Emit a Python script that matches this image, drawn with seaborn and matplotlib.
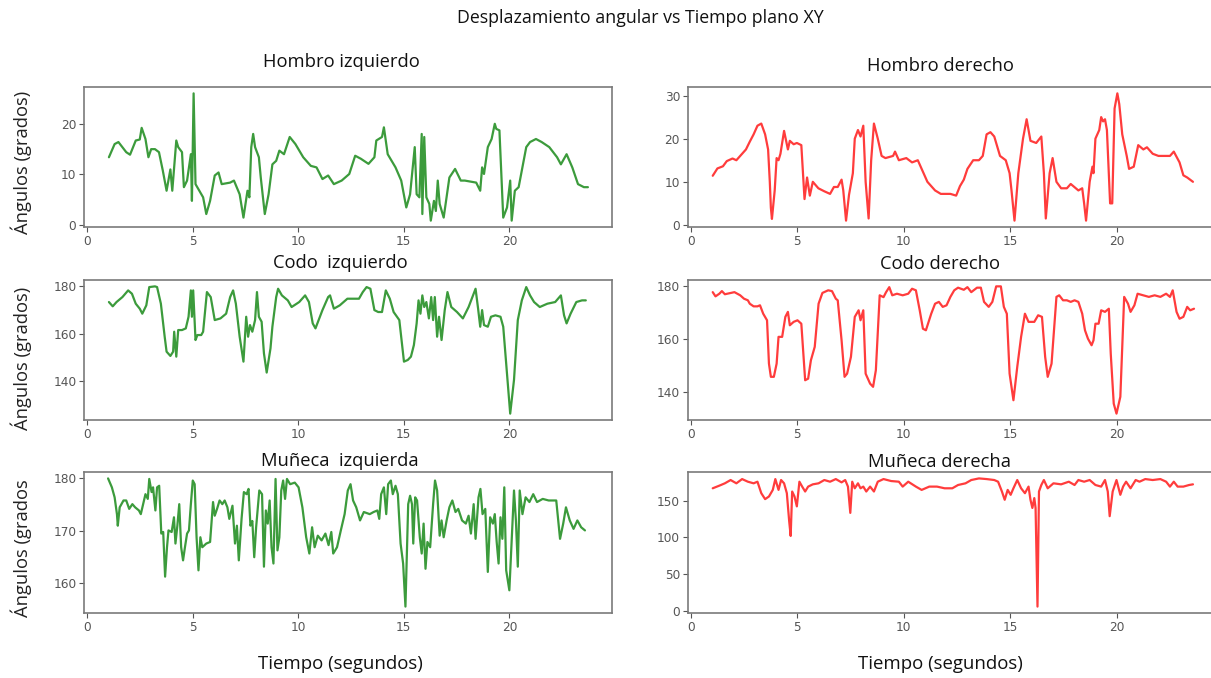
import matplotlib
matplotlib.use("Agg")
import matplotlib.pyplot as plt
import seaborn as sns
import pandas as pd

# ---------------- data ----------------
# Hombro izquierdo (green)
t_hi = [1.04, 1.31, 1.49, 1.86, 2.04, 2.31, 2.50, 2.59, 2.77, 2.91, 3.04, 3.22, 3.41, 3.59, 3.77, 3.95,
        4.04, 4.23, 4.32, 4.50, 4.59, 4.74, 4.92, 4.97, 5.05, 5.14, 5.32, 5.50, 5.65, 5.83, 6.05, 6.23,
        6.38, 6.78, 6.96, 7.23, 7.41, 7.60, 7.69, 7.78, 7.87, 7.96, 8.14, 8.23, 8.42, 8.60, 8.78, 8.96,
        9.11, 9.33, 9.60, 9.87, 10.24, 10.60, 10.87, 11.15, 11.42, 11.69, 12.06, 12.42, 12.70, 12.97,
        13.33, 13.61, 13.70, 13.97, 14.06, 14.24, 14.61, 14.88, 15.12, 15.30, 15.52, 15.61, 15.74, 15.85,
        15.88, 15.97, 16.07, 16.21, 16.28, 16.43, 16.52, 16.61, 16.70, 16.89, 17.16, 17.43, 17.70, 17.89,
        18.43, 18.62, 18.71, 18.80, 18.98, 19.16, 19.31, 19.38, 19.53, 19.71, 19.89, 20.04, 20.11, 20.26,
        20.44, 20.80, 20.98, 21.26, 21.53, 21.89, 22.26, 22.44, 22.71, 22.98, 23.25, 23.53, 23.72]
v_hi = [13.4, 16.0, 16.4, 14.4, 13.9, 16.7, 16.9, 19.2, 17.0, 13.4, 15.0, 15.0, 14.4, 10.8, 6.8, 11.0,
        6.8, 16.7, 15.4, 14.4, 7.5, 8.8, 14.0, 4.8, 26.0, 8.1, 6.8, 5.5, 2.2, 4.8, 9.8, 10.4,
        8.1, 8.4, 8.8, 6.1, 1.5, 6.8, 5.5, 15.4, 18.0, 15.4, 13.4, 9.4, 2.2, 6.1, 12.0, 12.7,
        14.7, 14.0, 17.4, 16.0, 13.4, 11.7, 11.4, 9.1, 9.8, 8.1, 8.8, 10.1, 13.7, 13.1,
        12.1, 13.4, 16.7, 17.4, 19.3, 14.0, 11.4, 8.8, 3.5, 6.1, 15.4, 6.1, 5.5, 18.0,
        2.2, 17.4, 5.5, 4.2, 0.9, 4.8, 2.8, 8.8, 4.2, 1.5, 9.4, 11.1, 8.8, 8.8,
        8.4, 6.8, 11.4, 10.1, 15.4, 17.0, 20.0, 19.0, 18.7, 1.5, 3.5, 8.8, 0.9, 6.8,
        7.5, 15.4, 16.4, 17.0, 16.4, 15.4, 13.4, 12.0, 14.0, 11.4, 8.1, 7.5, 7.5]

# Hombro derecho (red)
t_hd = [1.04, 1.26, 1.52, 1.70, 1.97, 2.15, 2.42, 2.60, 2.78, 2.96, 3.14, 3.32, 3.50, 3.64, 3.72, 3.77,
        3.82, 3.95, 4.04, 4.13, 4.22, 4.39, 4.57, 4.66, 4.84, 4.99, 5.20, 5.35, 5.47, 5.60, 5.74, 6.00,
        6.28, 6.55, 6.73, 6.91, 7.09, 7.17, 7.30, 7.44, 7.62, 7.71, 7.86, 7.98, 8.11, 8.22, 8.36, 8.48,
        8.61, 8.79, 8.97, 9.15, 9.51, 9.60, 9.78, 10.13, 10.40, 10.67, 10.85, 11.12, 11.48, 11.75, 12.20,
        12.47, 12.65, 12.83, 13.00, 13.27, 13.54, 13.72, 13.90, 14.08, 14.26, 14.53, 14.80, 14.98, 15.07,
        15.21, 15.39, 15.61, 15.78, 15.96, 16.23, 16.47, 16.59, 16.68, 16.86, 17.00, 17.18, 17.40, 17.67,
        17.85, 18.21, 18.39, 18.48, 18.57, 18.74, 18.87, 18.92, 19.01, 19.19, 19.28, 19.37, 19.46, 19.55,
        19.70, 19.80, 19.91, 20.04, 20.13, 20.27, 20.48, 20.59, 20.81, 21.02, 21.26, 21.43, 21.70, 21.97,
        22.24, 22.51, 22.69, 22.96, 23.14, 23.32, 23.59]
v_hd = [11.4, 13.1, 13.6, 14.8, 15.4, 15.0, 16.5, 17.5, 19.3, 21.0, 23.0, 23.5, 21.0, 17.5, 10.0, 4.0,
        1.4, 8.0, 15.5, 15.0, 16.5, 21.8, 17.5, 19.5, 18.7, 19.0, 18.5, 6.0, 11.0, 6.8, 10.0, 8.5,
        7.8, 7.2, 8.8, 8.8, 10.5, 8.0, 1.0, 7.0, 12.0, 20.0, 22.0, 20.5, 23.0, 10.0, 1.5, 15.0,
        23.5, 20.0, 16.0, 15.5, 16.0, 17.0, 15.0, 15.5, 14.5, 15.0, 13.0, 10.0, 8.0, 7.2, 7.2,
        6.8, 9.0, 10.5, 13.0, 15.0, 15.0, 16.0, 21.0, 21.5, 20.5, 16.0, 15.0, 12.0, 8.0,
        1.0, 12.0, 20.0, 24.5, 19.5, 19.0, 20.5, 12.0, 1.5, 12.0, 15.5, 10.0, 8.5, 8.5,
        9.5, 8.0, 8.5, 5.0, 1.0, 10.0, 13.5, 12.0, 20.0, 22.0, 25.0, 24.0, 24.5, 22.0,
        5.0, 5.0, 27.0, 30.5, 28.0, 21.0, 16.0, 13.0, 13.5, 18.5, 17.5, 18.0, 16.5, 16.0,
        16.0, 16.0, 17.0, 14.5, 11.5, 11.0, 10.0]

# Codo izquierdo (green)
t_ci = [1.04, 1.22, 1.40, 1.68, 1.95, 2.13, 2.31, 2.50, 2.62, 2.81, 2.95, 3.22, 3.32, 3.50, 3.68, 3.77,
        3.95, 4.08, 4.13, 4.23, 4.32, 4.50, 4.68, 4.81, 4.92, 4.97, 5.03, 5.08, 5.14, 5.23, 5.41, 5.50,
        5.68, 5.86, 6.05, 6.32, 6.59, 6.78, 6.92, 7.05, 7.23, 7.41, 7.54, 7.63, 7.72, 7.83, 7.96, 8.05,
        8.14, 8.27, 8.38, 8.51, 8.69, 8.78, 8.96, 9.05, 9.23, 9.51, 9.69, 10.05, 10.33, 10.51, 10.69,
        10.82, 11.15, 11.42, 11.51, 11.69, 11.97, 12.33, 12.60, 12.88, 13.06, 13.24, 13.42, 13.61, 13.79,
        13.97, 14.15, 14.34, 14.52, 14.79, 15.01, 15.19, 15.34, 15.48, 15.61, 15.70, 15.79, 15.88, 15.97,
        16.07, 16.19, 16.30, 16.39, 16.47, 16.58, 16.67, 16.79, 16.94, 17.07, 17.25, 17.52, 17.80, 18.07,
        18.25, 18.40, 18.52, 18.62, 18.71, 18.80, 18.98, 19.13, 19.34, 19.58, 19.71, 19.85, 20.04, 20.22,
        20.40, 20.59, 20.80, 20.98, 21.17, 21.44, 21.80, 22.17, 22.44, 22.59, 22.71, 22.90, 23.17, 23.44,
        23.62]
v_ci = [173.4, 171.6, 173.4, 175.5, 178.3, 176.9, 172.7, 170.6, 168.5, 172.0, 179.7, 180.0, 179.7, 172.7,
        158.8, 152.5, 150.7, 152.5, 160.9, 150.4, 161.6, 161.6, 162.3, 167.2, 178.3, 167.2, 178.3, 168.5,
        157.4, 159.5, 159.5, 160.9, 177.6, 175.5, 165.8, 166.5, 168.5, 175.5, 178.3, 172.7, 158.8, 148.3,
        167.2, 158.8, 163.7, 160.9, 165.8, 177.6, 167.2, 165.1, 151.8, 143.7, 153.9, 163.0, 175.5, 179.0,
        176.2, 174.1, 171.3, 173.4, 176.2, 173.4, 164.4, 162.3, 170.0, 175.5, 176.2, 170.6, 172.0, 174.8,
        174.8, 174.8, 177.6, 179.7, 179.0, 170.0, 169.2, 169.2, 178.3, 174.8, 169.2, 165.8, 148.3, 149.0,
        150.4, 155.3, 164.4, 174.1, 168.5, 176.2, 171.3, 173.4, 166.5, 175.5, 165.8, 175.5, 158.8, 167.2,
        157.4, 170.0, 177.6, 171.3, 169.2, 166.5, 171.3, 175.5, 179.0, 170.6, 163.0, 170.0, 163.7, 163.0,
        167.2, 167.8, 167.2, 163.0, 147.6, 126.4, 140.6, 165.8, 174.1, 179.7, 176.2, 173.4, 171.3, 172.7,
        173.4, 176.2, 167.8, 164.4, 168.5, 173.4, 174.1, 174.1]

# Codo derecho (red)
t_cd = [1.04, 1.17, 1.35, 1.47, 1.61, 1.88, 2.06, 2.33, 2.51, 2.69, 2.78, 2.96, 3.14, 3.26, 3.41, 3.59,
        3.68, 3.77, 3.91, 4.04, 4.13, 4.30, 4.45, 4.57, 4.66, 4.84, 5.02, 5.20, 5.38, 5.52, 5.65, 5.83,
        6.01, 6.19, 6.46, 6.64, 6.82, 6.91, 7.09, 7.23, 7.35, 7.53, 7.71, 7.89, 7.98, 8.11, 8.22, 8.43,
        8.57, 8.70, 8.88, 9.06, 9.18, 9.33, 9.47, 9.69, 9.96, 10.22, 10.40, 10.58, 10.76, 10.91, 11.05,
        11.30, 11.48, 11.66, 11.84, 12.02, 12.20, 12.38, 12.56, 12.83, 13.00, 13.18, 13.45, 13.63, 13.78,
        14.00, 14.17, 14.35, 14.57, 14.71, 14.85, 14.98, 15.16, 15.34, 15.52, 15.70, 15.87, 16.14, 16.32,
        16.50, 16.65, 16.77, 16.95, 17.18, 17.31, 17.49, 17.67, 17.85, 18.03, 18.21, 18.39, 18.52, 18.66,
        18.83, 18.92, 19.01, 19.16, 19.28, 19.46, 19.64, 19.73, 19.87, 20.00, 20.18, 20.36, 20.54, 20.66,
        20.84, 20.99, 21.26, 21.52, 21.79, 22.06, 22.33, 22.51, 22.64, 22.82, 22.96, 23.14, 23.32, 23.46,
        23.64]
v_cd = [177.8, 176.2, 177.2, 178.2, 177.0, 177.5, 177.8, 176.6, 175.3, 174.7, 173.4, 172.4, 172.4, 172.8,
        169.6, 167.1, 150.6, 145.6, 145.6, 150.6, 160.8, 160.8, 168.4, 170.3, 165.2, 166.5, 167.1, 165.8,
        144.3, 144.9, 151.9, 157.0, 173.4, 177.5, 178.5, 178.2, 175.3, 174.7, 159.5, 145.6, 146.8, 153.2,
        168.4, 170.9, 167.1, 170.9, 146.8, 143.0, 141.8, 148.1, 176.6, 175.9, 177.8, 179.7, 176.6, 177.2,
        176.6, 177.2, 179.1, 178.5, 170.9, 163.9, 163.3, 169.6, 173.4, 174.1, 172.2, 172.8, 176.0, 178.5,
        179.5, 178.7, 179.7, 177.8, 179.5, 179.5, 174.1, 172.2, 174.1, 180.0, 180.0, 172.2, 169.6, 146.8,
        136.7, 149.4, 160.8, 169.6, 166.5, 166.5, 169.0, 168.4, 153.2, 145.6, 150.6, 176.0, 176.6, 174.7,
        174.7, 174.1, 174.7, 174.1, 169.6, 163.3, 160.1, 157.6, 159.5, 165.8, 165.8, 170.9, 170.3, 171.5,
        154.4, 135.4, 131.6, 138.0, 176.0, 173.4, 170.3, 172.8, 177.2, 176.6, 176.0, 176.6, 176.0, 177.2,
        176.0, 178.5, 170.3, 167.7, 168.4, 172.2, 170.9, 171.5]

# Muñeca izquierda (green)
t_mi = [1.00, 1.18, 1.31, 1.42, 1.46, 1.55, 1.73, 1.86, 2.00, 2.15, 2.28, 2.46, 2.55, 2.70, 2.77, 2.88,
        2.95, 3.06, 3.13, 3.24, 3.32, 3.42, 3.52, 3.61, 3.70, 3.79, 3.86, 4.01, 4.12, 4.19, 4.28, 4.37,
        4.46, 4.55, 4.64, 4.74, 4.83, 4.92, 5.01, 5.10, 5.19, 5.28, 5.37, 5.46, 5.65, 5.83, 5.97, 6.05,
        6.16, 6.28, 6.41, 6.52, 6.65, 6.74, 6.89, 7.01, 7.10, 7.19, 7.32, 7.43, 7.56, 7.65, 7.74, 7.83,
        7.92, 8.01, 8.16, 8.29, 8.38, 8.47, 8.56, 8.65, 8.74, 8.83, 8.93, 9.02, 9.11, 9.20, 9.29, 9.38,
        9.47, 9.62, 9.84, 10.02, 10.20, 10.38, 10.53, 10.66, 10.78, 10.93, 11.11, 11.29, 11.44, 11.57,
        11.66, 11.84, 12.02, 12.20, 12.35, 12.48, 12.60, 12.75, 12.93, 13.11, 13.39, 13.57, 13.75, 13.84,
        13.93, 14.06, 14.17, 14.26, 14.39, 14.48, 14.61, 14.72, 14.85, 14.97, 15.08, 15.21, 15.30, 15.39,
        15.45, 15.54, 15.63, 15.76, 15.85, 15.94, 16.03, 16.12, 16.25, 16.39, 16.48, 16.58, 16.70, 16.79,
        16.89, 17.03, 17.16, 17.30, 17.45, 17.58, 17.76, 17.94, 18.07, 18.18, 18.31, 18.40, 18.54, 18.63,
        18.73, 18.86, 18.98, 19.09, 19.22, 19.31, 19.40, 19.49, 19.58, 19.67, 19.76, 19.85, 20.00, 20.13,
        20.22, 20.31, 20.40, 20.49, 20.62, 20.77, 20.95, 21.13, 21.31, 21.58, 21.86, 22.22, 22.40, 22.55,
        22.68, 22.86, 23.04, 23.22, 23.40, 23.58]
v_mi = [180.0, 178.3, 176.4, 173.2, 171.0, 174.5, 175.8, 175.8, 174.2, 175.1, 174.5, 173.9, 173.2, 175.8,
        177.0, 176.1, 179.9, 177.4, 178.3, 173.9, 178.3, 178.6, 169.5, 169.8, 161.3, 166.9, 170.1, 169.8,
        172.6, 167.6, 171.0, 175.1, 166.9, 164.4, 166.9, 169.5, 170.1, 175.1, 179.6, 178.9, 168.8, 162.5,
        168.8, 166.9, 167.6, 167.9, 175.5, 172.9, 174.2, 175.8, 175.1, 175.8, 174.5, 172.3, 174.8, 167.6,
        171.0, 164.4, 172.3, 177.4, 177.0, 178.0, 171.0, 171.9, 165.0, 170.7, 177.7, 177.0, 163.2, 173.9,
        171.4, 175.8, 166.9, 163.8, 179.9, 166.3, 168.8, 177.7, 179.6, 176.1, 179.9, 178.9, 179.2, 178.3,
        174.5, 168.8, 165.7, 170.7, 166.9, 169.1, 168.2, 169.5, 167.3, 169.8, 165.7, 166.9, 170.1, 173.2,
        177.7, 178.9, 175.8, 174.5, 172.0, 173.6, 173.2, 173.6, 173.9, 172.3, 177.0, 178.3, 173.2, 178.9,
        179.6, 177.0, 178.6, 177.0, 167.6, 163.8, 155.6, 175.1, 176.7, 175.1, 167.6, 176.4, 175.8, 168.8,
        165.7, 171.4, 162.8, 167.9, 166.9, 175.1, 179.6, 177.7, 169.1, 172.0, 168.8, 172.0, 174.5, 175.8,
        173.6, 174.2, 172.0, 171.4, 172.9, 169.5, 175.1, 168.5, 176.4, 178.0, 173.2, 174.2, 162.2, 172.6,
        171.4, 173.2, 167.9, 163.8, 172.6, 168.5, 178.3, 162.5, 158.7, 170.1, 177.7, 172.0, 163.2, 177.7,
        173.2, 176.4, 175.5, 177.0, 175.5, 176.1, 175.8, 175.8, 168.5, 171.4, 174.5, 172.0, 170.4, 172.0,
        170.7, 170.1]

# Muñeca derecha (red)
t_md = [1.04, 1.35, 1.61, 1.88, 2.15, 2.42, 2.69, 2.96, 3.14, 3.32, 3.50, 3.68, 3.86, 3.98, 4.13, 4.25,
        4.39, 4.52, 4.63, 4.70, 4.77, 4.88, 4.99, 5.11, 5.24, 5.38, 5.52, 5.74, 6.01, 6.28, 6.55, 6.82,
        7.09, 7.26, 7.39, 7.50, 7.59, 7.71, 7.86, 7.98, 8.11, 8.25, 8.43, 8.61, 8.79, 9.06, 9.42, 9.78,
        9.96, 10.22, 10.58, 10.85, 11.21, 11.57, 11.93, 12.29, 12.56, 12.91, 13.18, 13.54, 13.90, 14.26,
        14.44, 14.62, 14.75, 14.89, 15.03, 15.16, 15.34, 15.52, 15.70, 15.87, 15.96, 16.05, 16.14, 16.20,
        16.29, 16.36, 16.47, 16.59, 16.77, 17.04, 17.40, 17.76, 18.03, 18.21, 18.48, 18.74, 19.01, 19.28,
        19.46, 19.59, 19.68, 19.82, 20.00, 20.18, 20.31, 20.45, 20.66, 20.90, 21.08, 21.35, 21.70, 22.06,
        22.33, 22.51, 22.69, 22.87, 23.14, 23.41, 23.59]
v_md = [167.0, 170.6, 173.8, 178.3, 173.8, 179.6, 176.0, 173.8, 176.0, 160.3, 152.2, 155.8, 164.8, 179.6,
        164.8, 178.3, 173.8, 160.3, 122.1, 101.9, 162.6, 155.8, 142.3, 176.0, 169.3, 162.6, 169.3, 172.4,
        173.8, 178.3, 176.0, 179.6, 175.1, 178.3, 169.3, 133.4, 176.0, 167.0, 173.8, 167.0, 169.3, 162.6,
        169.3, 162.6, 176.0, 179.6, 176.9, 176.0, 169.3, 176.0, 169.3, 164.8, 169.3, 169.3, 167.0, 167.0,
        171.5, 173.8, 178.3, 180.5, 179.6, 178.3, 176.0, 162.6, 151.3, 164.8, 158.1, 167.0, 178.3, 167.0,
        160.3, 169.3, 151.3, 140.1, 153.6, 140.1, 5.4, 162.6, 171.5, 178.3, 167.0, 173.8, 172.4, 176.0,
        171.5, 178.3, 176.0, 178.3, 171.5, 169.3, 178.3, 162.6, 128.9, 162.6, 178.3, 158.1, 169.3, 176.0,
        167.0, 178.3, 176.0, 179.6, 178.3, 179.6, 176.0, 169.3, 176.0, 169.3, 169.3, 171.5, 172.4]

titles = ["Hombro izquierdo", "Hombro derecho", "Codo  izquierdo", "Codo derecho",
          "Muñeca  izquierda", "Muñeca derecha"]
yticks = [[0, 10, 20], [0, 10, 20, 30], [140, 160, 180], [140, 160, 180],
          [160, 170, 180], [0, 50, 100, 150]]
xticks = [0, 5, 10, 15, 20]
ylabels = ["Ángulos (grados)", "Ángulos (grados)", "Ángulos (grados"]
suptitle = "Desplazamiento angular vs Tiempo plano XY"
xlabel = "Tiempo (segundos)"

series = [(t_hi, v_hi), (t_hd, v_hd), (t_ci, v_ci), (t_cd, v_cd), (t_mi, v_mi), (t_md, v_md)]
colors = ["#1a8a1a", "#ff1a1a"]

# ---------------- layout ----------------
sns.set_style("white")
plt.rcParams['font.family'] = ['Open Sans', 'DejaVu Sans']

W, H = 1211, 678
fig = plt.figure(figsize=(W / 100, H / 100), dpi=100)

col_x = [(84, 612), (687.6, 1220)]
row_y = [(87, 227), (280, 420), (472, 613)]
title_pos = [(341, 62), (940, 66), (340, 263), (940, 264), (340, 461), (940, 462)]

for i, ((t, v), ttl) in enumerate(zip(series, titles)):
    r, c = divmod(i, 2)
    x0, x1 = col_x[c]
    y0, y1 = row_y[r]
    ax = fig.add_axes([x0 / W, 1 - y1 / H, (x1 - x0) / W, (y1 - y0) / H])
    df = pd.DataFrame({"t": t, "v": v})
    sns.lineplot(data=df, x="t", y="v", ax=ax, color=colors[c], lw=1.6,
                 alpha=0.85, estimator=None, sort=False)
    ax.set_xlim(-0.14, 24.86)
    lo, hi = min(v), max(v)
    m = (hi - lo) * 0.05
    ax.set_ylim(lo - m, hi + m)
    ax.set_xticks(xticks)
    ax.set_yticks(yticks[i])
    ax.set_xlabel("")
    ax.set_ylabel("")
    ax.tick_params(axis='both', which='both', direction='out', length=3.5, width=0.8,
                   colors='#555555', labelsize=8.7, left=True, bottom=True, pad=2)
    for lab in ax.get_xticklabels() + ax.get_yticklabels():
        lab.set_fontfamily('DejaVu Sans')
    for sp in ax.spines.values():
        sp.set_visible(True)
        sp.set_color('#7a7a7a')
        sp.set_linewidth(1.2)
    fig.text(title_pos[i][0] / W, 1 - title_pos[i][1] / H, ttl, ha='center', va='center',
             fontsize=13.2, color='#111111')

ylab_pos = [(21, 162), (21, 358), (21, 548)]
for lab, (x, y) in zip(ylabels, ylab_pos):
    fig.text(x / W, 1 - y / H, lab, rotation=90, ha='center', va='center',
             fontsize=13.2, color='#222222')

for x in (340, 940):
    fig.text(x / W, 1 - 664 / H, xlabel, ha='center', va='center', fontsize=13.4, color='#111111')

fig.text(640 / W, 1 - 18 / H, suptitle, ha='center', va='center', fontsize=12.8, color='#111111')

fig.savefig("out.png", dpi=100)
